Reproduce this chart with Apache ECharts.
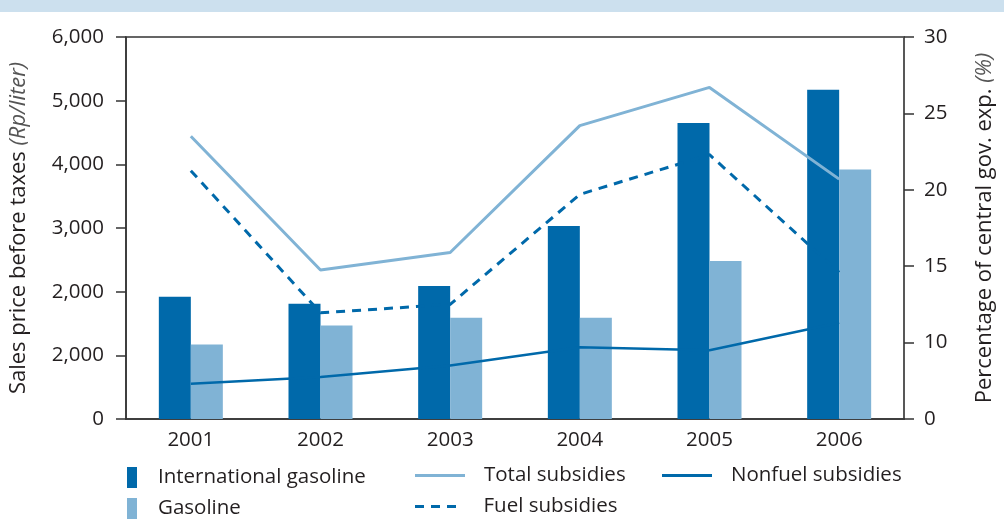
<!DOCTYPE html>
<html>
<head>
<meta charset="utf-8">
<script src="https://cdn.jsdelivr.net/npm/echarts@6/dist/echarts.min.js"></script>
<style>
html,body{margin:0;padding:0;background:#fff;}
#c{width:1004px;height:520px;}
</style>
</head>
<body>
<div id="c"></div>
<script>
var categories = ['2001', '2002', '2003', '2004', '2005', '2006'];
var internationalGasoline = [1920, 1810, 2090, 3030, 4650, 5170];
var gasoline = [1170, 1470, 1590, 1590, 2480, 3920];
var totalSubsidies = [23.5, 14.75, 15.9, 24.2, 26.7, 20.7];
var fuelSubsidies = [21.25, 11.95, 12.5, 19.7, 22.3, 14.6];
var nonfuelSubsidies = [7.3, 7.75, 8.5, 9.7, 9.5, 11.3];
var leftTickLabels = ['0', '2,000', '2,000', '3,000', '4,000', '5,000', '6,000'];
var rightTickLabels = ['0', '10', '15', '20', '25', '30'];

var FONT = 'Open Sans';
var TXT = '#231f20';
var DARK = '#0069aa';
var LIGHT = '#80b3d5';
var FS = 20.5;

function legendItem(name, left, top, w, h, icon, pad) {
  return {
    data: [{name: name, icon: icon}],
    orient: 'horizontal', left: left, top: top, padding: 0,
    itemWidth: w, itemHeight: h,
    textStyle: {fontFamily: FONT, fontSize: FS, color: TXT, padding: [0, 0, 0, pad]},
    selectedMode: false
  };
}

var chart = echarts.init(document.getElementById('c'), null, {renderer: 'canvas'});
chart.setOption({
  animation: false,
  backgroundColor: '#fff',
  textStyle: {fontFamily: FONT, color: TXT},
  graphic: [{
    type: 'rect', left: 0, top: 0, z: -1,
    shape: {x: 0, y: 0, width: 1004, height: 12},
    style: {fill: '#cce0ee'}
  }],
  grid: {left: 125, right: 94, top: 37, bottom: 101, show: true, borderColor: '#333', borderWidth: 1.5, containLabel: false},
  legend: [
    legendItem('International gasoline', 127, 467, 10, 21, 'rect', 16),
    legendItem('Gasoline', 127, 498, 10, 21, 'rect', 16),
    legendItem('Total subsidies', 415, 465, 50, 3, 'rect', 14),
    legendItem('Fuel subsidies', 415, 496, 50, 3, 'path://M0,0h9v3h-9z M16,0h9v3h-9z M32,0h9v3h-9z', 18),
    legendItem('Nonfuel subsidies', 662, 465, 50, 3, 'rect', 14)
  ],
  xAxis: {
    type: 'category',
    data: categories,
    boundaryGap: true,
    axisLine: {lineStyle: {color: '#333', width: 1.5}},
    axisTick: {show: false},
    axisLabel: {fontFamily: FONT, fontSize: FS, color: TXT, margin: 11}
  },
  yAxis: [
    {
      type: 'value', min: 0, max: 6000, interval: 1000, position: 'left',
      name: '{n|Sales price before taxes }{i|(Rp/liter)}',
      nameLocation: 'middle', nameGap: 96, nameRotate: 90,
      nameTextStyle: {
        rich: {
          n: {fontFamily: FONT, fontSize: 22, color: TXT},
          i: {fontFamily: FONT, fontSize: 22, color: '#555', fontStyle: 'italic'}
        }
      },
      axisLine: {show: true, lineStyle: {color: '#333', width: 1.5}},
      axisTick: {show: true, length: 10, lineStyle: {color: '#333', width: 1.5}},
      splitLine: {show: false},
      axisLabel: {
        fontFamily: FONT, fontSize: FS, color: TXT, margin: 22,
        formatter: function (v) { return leftTickLabels[Math.round(v / 1000)]; }
      }
    },
    {
      type: 'value', min: 5, max: 30, interval: 5, position: 'right',
      name: '{n|Percentage of central gov. exp. }{i|(%)}',
      nameLocation: 'middle', nameGap: 70, nameRotate: 90,
      nameTextStyle: {
        rich: {
          n: {fontFamily: FONT, fontSize: 22, color: TXT},
          i: {fontFamily: FONT, fontSize: 22, color: '#555', fontStyle: 'italic'}
        }
      },
      axisLine: {show: true, lineStyle: {color: '#555', width: 1.5}},
      axisTick: {show: true, length: 10, lineStyle: {color: '#333', width: 1.5}},
      splitLine: {show: false},
      axisLabel: {
        fontFamily: FONT, fontSize: FS, color: TXT, margin: 20,
        formatter: function (v) { return rightTickLabels[Math.round(v / 5) - 1]; }
      }
    }
  ],
  series: [
    {
      name: 'International gasoline', type: 'bar', yAxisIndex: 0,
      data: internationalGasoline, barWidth: 32, barGap: '0%',
      itemStyle: {color: DARK}, z: 2
    },
    {
      name: 'Gasoline', type: 'bar', yAxisIndex: 0,
      data: gasoline, barWidth: 32, barGap: '0%',
      itemStyle: {color: LIGHT}, z: 2
    },
    {
      name: 'Total subsidies', type: 'line', yAxisIndex: 1,
      data: totalSubsidies, symbol: 'none',
      lineStyle: {color: LIGHT, width: 3}, itemStyle: {color: LIGHT}, z: 3
    },
    {
      name: 'Fuel subsidies', type: 'line', yAxisIndex: 1,
      data: fuelSubsidies, symbol: 'none',
      lineStyle: {color: DARK, width: 3, type: [9, 7]}, itemStyle: {color: DARK}, z: 3
    },
    {
      name: 'Nonfuel subsidies', type: 'line', yAxisIndex: 1,
      data: nonfuelSubsidies, symbol: 'none',
      lineStyle: {color: DARK, width: 2.5}, itemStyle: {color: DARK}, z: 3
    }
  ]
});
</script>
</body>
</html>
